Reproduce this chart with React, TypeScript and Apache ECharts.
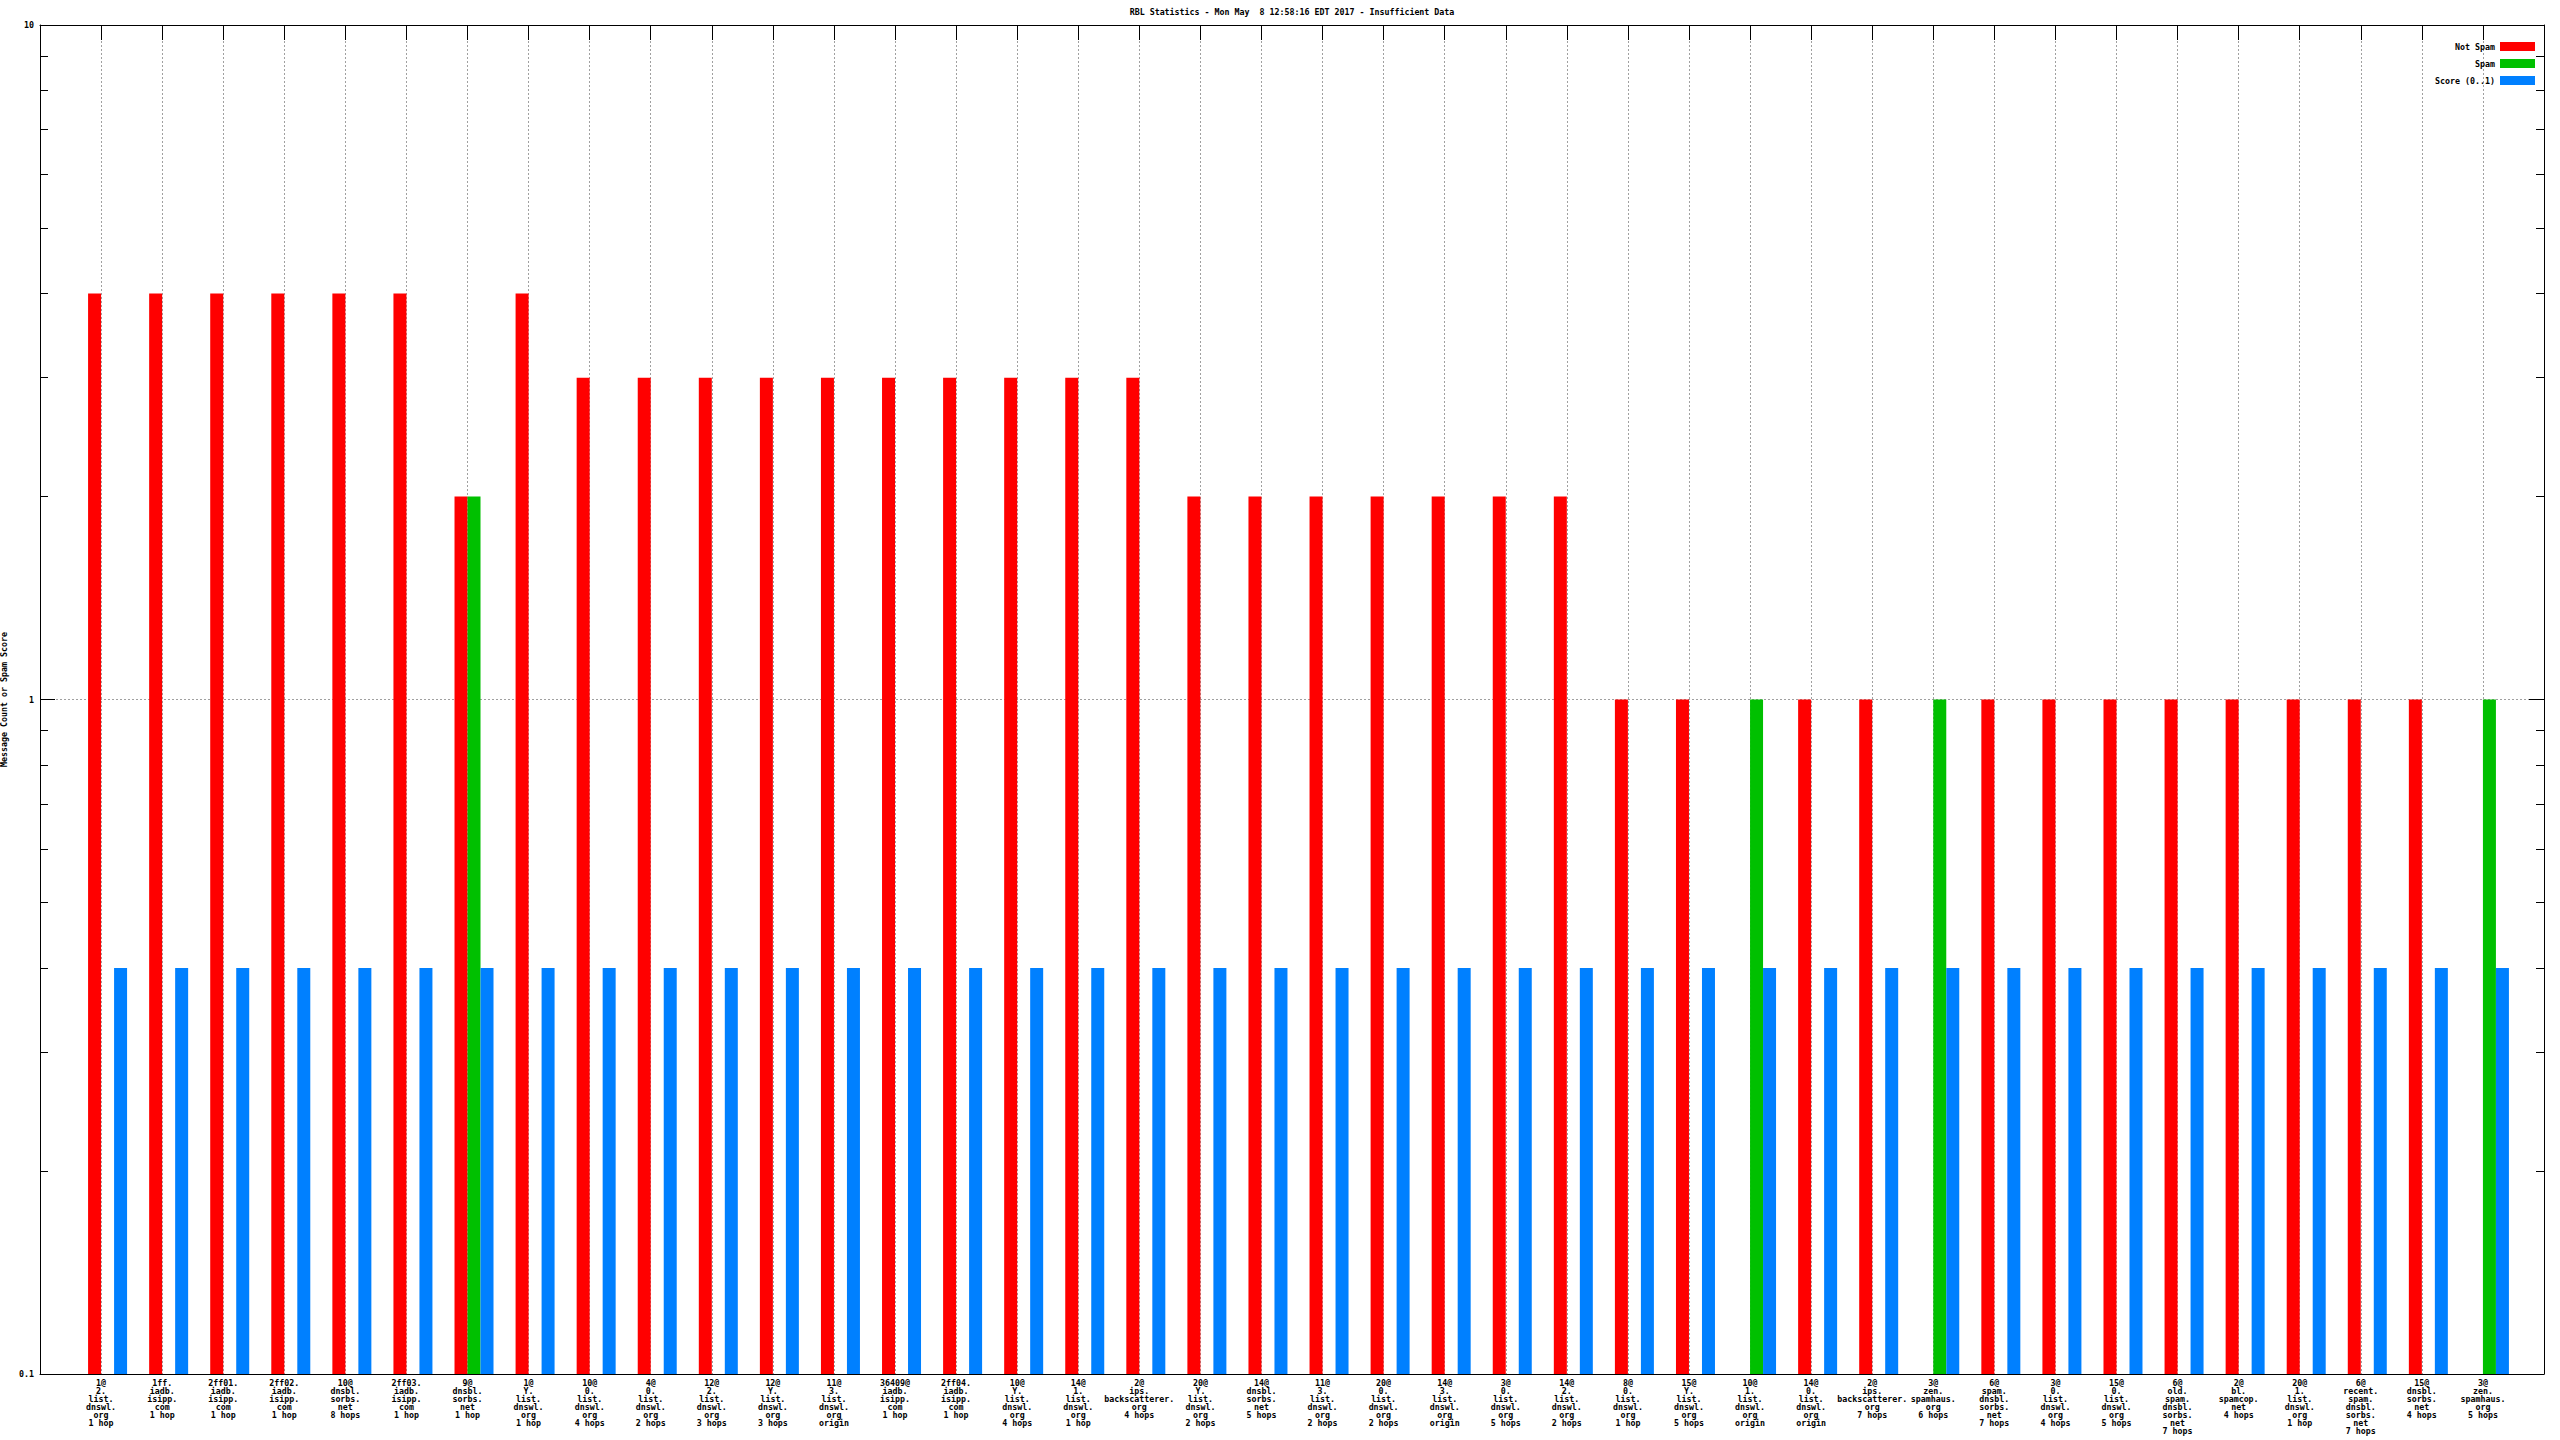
import React, { useEffect, useRef } from 'react';
import * as echarts from 'echarts';

const chartTitle = 'RBL Statistics - Mon May  8 12:58:16 EDT 2017 - Insufficient Data';
const yAxisTitle = 'Message Count or Spam Score';
const seriesNames = ['Not Spam', 'Spam', 'Score (0..1)'];
const seriesColors = ['#ff0000', '#00c000', '#0080ff'];

const categories: string[] = [
  '1@\n2.\nlist.\ndnswl.\norg\n1 hop',
  '1ff.\niadb.\nisipp.\ncom\n1 hop',
  '2ff01.\niadb.\nisipp.\ncom\n1 hop',
  '2ff02.\niadb.\nisipp.\ncom\n1 hop',
  '10@\ndnsbl.\nsorbs.\nnet\n8 hops',
  '2ff03.\niadb.\nisipp.\ncom\n1 hop',
  '9@\ndnsbl.\nsorbs.\nnet\n1 hop',
  '1@\nY.\nlist.\ndnswl.\norg\n1 hop',
  '10@\n0.\nlist.\ndnswl.\norg\n4 hops',
  '4@\n0.\nlist.\ndnswl.\norg\n2 hops',
  '12@\n2.\nlist.\ndnswl.\norg\n3 hops',
  '12@\nY.\nlist.\ndnswl.\norg\n3 hops',
  '11@\n3.\nlist.\ndnswl.\norg\norigin',
  '36409@\niadb.\nisipp.\ncom\n1 hop',
  '2ff04.\niadb.\nisipp.\ncom\n1 hop',
  '10@\nY.\nlist.\ndnswl.\norg\n4 hops',
  '14@\n1.\nlist.\ndnswl.\norg\n1 hop',
  '2@\nips.\nbackscatterer.\norg\n4 hops',
  '20@\nY.\nlist.\ndnswl.\norg\n2 hops',
  '14@\ndnsbl.\nsorbs.\nnet\n5 hops',
  '11@\n3.\nlist.\ndnswl.\norg\n2 hops',
  '20@\n0.\nlist.\ndnswl.\norg\n2 hops',
  '14@\n3.\nlist.\ndnswl.\norg\norigin',
  '3@\n0.\nlist.\ndnswl.\norg\n5 hops',
  '14@\n2.\nlist.\ndnswl.\norg\n2 hops',
  '8@\n0.\nlist.\ndnswl.\norg\n1 hop',
  '15@\nY.\nlist.\ndnswl.\norg\n5 hops',
  '10@\n1.\nlist.\ndnswl.\norg\norigin',
  '14@\n0.\nlist.\ndnswl.\norg\norigin',
  '2@\nips.\nbackscatterer.\norg\n7 hops',
  '3@\nzen.\nspamhaus.\norg\n6 hops',
  '6@\nspam.\ndnsbl.\nsorbs.\nnet\n7 hops',
  '3@\n0.\nlist.\ndnswl.\norg\n4 hops',
  '15@\n0.\nlist.\ndnswl.\norg\n5 hops',
  '6@\nold.\nspam.\ndnsbl.\nsorbs.\nnet\n7 hops',
  '2@\nbl.\nspamcop.\nnet\n4 hops',
  '20@\n1.\nlist.\ndnswl.\norg\n1 hop',
  '6@\nrecent.\nspam.\ndnsbl.\nsorbs.\nnet\n7 hops',
  '15@\ndnsbl.\nsorbs.\nnet\n4 hops',
  '3@\nzen.\nspamhaus.\norg\n5 hops',
];

const notSpam: (number | null)[] = [
  4, 4, 4, 4, 4, 4, 2, 4, 3, 3,
  3, 3, 3, 3, 3, 3, 3, 3, 2, 2,
  2, 2, 2, 2, 2, 1, 1, null, 1, 1,
  null, 1, 1, 1, 1, 1, 1, 1, 1, null,
];

const spam: (number | null)[] = [
  null, null, null, null, null, null, 2, null, null, null,
  null, null, null, null, null, null, null, null, null, null,
  null, null, null, null, null, null, null, 1, null, null,
  1, null, null, null, null, null, null, null, null, 1,
];

const score: number[] = [
  0.4, 0.4, 0.4, 0.4, 0.4, 0.4, 0.4, 0.4, 0.4, 0.4,
  0.4, 0.4, 0.4, 0.4, 0.4, 0.4, 0.4, 0.4, 0.4, 0.4,
  0.4, 0.4, 0.4, 0.4, 0.4, 0.4, 0.4, 0.4, 0.4, 0.4,
  0.4, 0.4, 0.4, 0.4, 0.4, 0.4, 0.4, 0.4, 0.4, 0.4,
];

const yMin = 0.1;
const yMax = 10;
const minorTickValues = [0.2, 0.3, 0.4, 0.5, 0.6, 0.7, 0.8, 0.9, 2, 3, 4, 5, 6, 7, 8, 9];

const FONT = 'DejaVu Sans Mono';
const FS = 8.3;
const FW = 'bold';

export default function App() {
  const ref = useRef<HTMLDivElement>(null);

  useEffect(() => {
    if (!ref.current) return;
    const chart = echarts.init(ref.current, null, { renderer: 'svg' });

    // one empty slot before and after the real categories (gnuplot-like margins)
    const axisCats = ['', ...categories, ' '];
    const pad = (arr: (number | null)[]) => [null, ...arr, null];
    const isReal = (i: number) => i > 0 && i <= categories.length;

    const majorTick = { show: true, inside: true, length: 15, lineStyle: { color: '#000', width: 1 } };
    const minorTick = {
      show: true, inside: true, length: 8, customValues: minorTickValues,
      lineStyle: { color: '#000', width: 1 },
    };
    const baseY = { type: 'log', logBase: 10, min: yMin, max: yMax, startValue: yMin };

    const option: any = {
      animation: false,
      backgroundColor: '#fff',
      textStyle: { fontFamily: FONT, fontSize: FS, fontWeight: FW, color: '#000' },
      title: {
        text: chartTitle,
        left: 1292,
        top: 8,
        padding: 0,
        textAlign: 'center',
        textStyle: { fontFamily: FONT, fontSize: FS, fontWeight: FW, color: '#000' },
      },
      legend: {
        data: seriesNames,
        orient: 'vertical',
        align: 'right',
        right: 25,
        top: 42,
        padding: 0,
        itemWidth: 35,
        itemHeight: 9,
        itemGap: 8,
        icon: 'rect',
        selectedMode: false,
        textStyle: { fontFamily: FONT, fontSize: FS, fontWeight: FW, color: '#000', lineHeight: 9 },
      },
      grid: {
        left: 40,
        right: 16,
        top: 25,
        bottom: 66,
        containLabel: false,
        outerBoundsMode: 'none',
      },
      xAxis: [
        {
          type: 'category',
          data: axisCats,
          boundaryGap: false,
          position: 'bottom',
          axisLine: { show: true, lineStyle: { color: '#000', width: 1 } },
          axisTick: { show: false },
          axisLabel: {
            interval: 0,
            margin: 5,
            fontFamily: FONT,
            fontSize: FS,
            fontWeight: FW,
            lineHeight: 8,
            color: '#000',
            align: 'center',
            verticalAlign: 'top',
            hideOverlap: false,
          },
          splitLine: {
            show: true,
            interval: (i: number) => isReal(i),
            lineStyle: { color: '#a0a0a0', width: 1, type: [2, 2] },
          },
        },
        {
          type: 'category',
          data: axisCats,
          boundaryGap: false,
          position: 'top',
          axisLine: { show: true, lineStyle: { color: '#000', width: 1 } },
          axisTick: { ...majorTick, interval: (i: number) => isReal(i) },
          axisLabel: { show: false },
          splitLine: { show: false },
        },
      ],
      yAxis: [
        {
          ...baseY,
          position: 'left',
          name: yAxisTitle,
          nameLocation: 'middle',
          nameRotate: 90,
          nameGap: 30,
          nameTextStyle: { fontFamily: FONT, fontSize: FS, fontWeight: FW, color: '#000' },
          axisLine: { show: true, lineStyle: { color: '#000', width: 1 } },
          axisTick: majorTick,
          axisLabel: {
            margin: 6,
            fontFamily: FONT,
            fontSize: FS,
            fontWeight: FW,
            color: '#000',
            formatter: (v: number) => (v < 1 ? v.toFixed(1) : String(Math.round(v))),
          },
          splitLine: {
            show: true,
            lineStyle: { color: ['rgba(0,0,0,0)', '#a0a0a0', 'rgba(0,0,0,0)'], width: 1, type: [2, 2] },
          },
        },
        {
          ...baseY,
          position: 'left',
          axisLine: { show: false },
          axisTick: minorTick,
          axisLabel: { show: false },
          splitLine: { show: false },
        },
        {
          ...baseY,
          position: 'right',
          axisLine: { show: true, lineStyle: { color: '#000', width: 1 } },
          axisTick: majorTick,
          axisLabel: { show: false },
          splitLine: { show: false },
        },
        {
          ...baseY,
          position: 'right',
          axisLine: { show: false },
          axisTick: minorTick,
          axisLabel: { show: false },
          splitLine: { show: false },
        },
      ],
      series: [
        {
          // empty slot so the clustered bars start at the tick, as in gnuplot
          name: 'slot',
          type: 'bar',
          barWidth: 13,
          barGap: '0%',
          data: pad(categories.map(() => null)),
          silent: true,
        },
        {
          name: seriesNames[0],
          type: 'bar',
          barWidth: 13,
          barGap: '0%',
          itemStyle: { color: seriesColors[0] },
          data: pad(notSpam),
        },
        {
          name: seriesNames[1],
          type: 'bar',
          barWidth: 13,
          barGap: '0%',
          itemStyle: { color: seriesColors[1] },
          data: pad(spam),
        },
        {
          name: seriesNames[2],
          type: 'bar',
          barWidth: 13,
          barGap: '0%',
          itemStyle: { color: seriesColors[2] },
          data: pad(score),
        },
      ],
    };

    chart.setOption(option);
    return () => chart.dispose();
  }, []);

  return (
    <div
      ref={ref}
      style={{ position: 'absolute', left: 0, top: 0, width: 2560, height: 1440, background: '#fff' }}
    />
  );
}
